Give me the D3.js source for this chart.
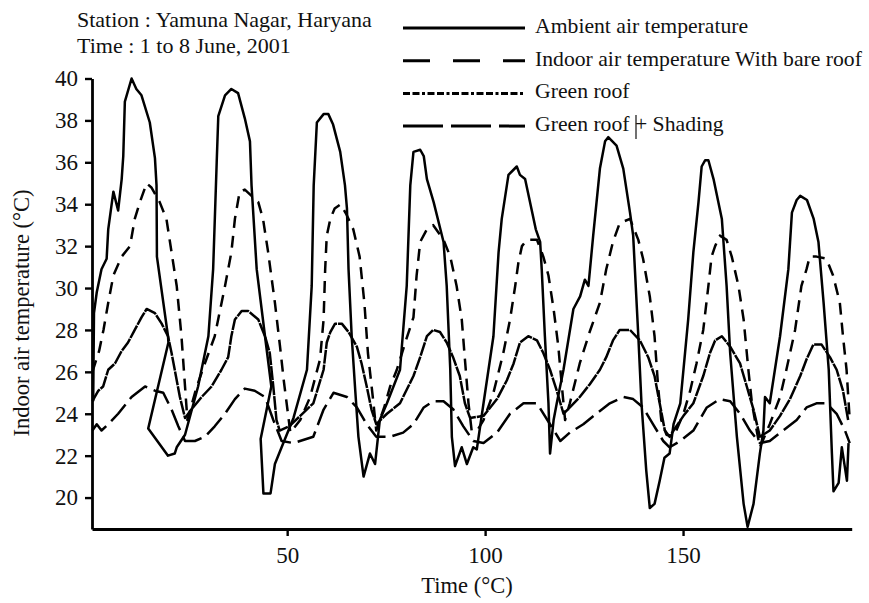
<!DOCTYPE html>
<html>
<head>
<meta charset="utf-8">
<script src="https://cdn.jsdelivr.net/npm/d3@7"></script>
<style>
  body { margin: 0; background: #fff; }
  text { font-family: "Liberation Serif", "DejaVu Serif", serif; fill: #111; }
</style>
</head>
<body>
<svg id="chart" width="869" height="603"></svg>
<script>

// [hour, temperature] pairs
const ambient = [
  [1.0,24.6],[1.2,28.8],[1.9,29.8],[3.1,30.9],[4.4,31.4],[4.8,32.8],[6.1,34.6],[7.3,33.7],[8.2,35.2],[8.6,36.3],[9.0,38.9],[10.7,40.0],[11.9,39.5],[13.2,39.2],[15.3,37.9],[16.6,36.2],[17.0,34.9],[17.1,31.5],[19.9,27.7],[20.0,27.4],[14.9,23.3],[19.9,22.0],[21.6,22.1],[22.1,22.4],[24.2,23.0],
  [27.5,25.3],[30.1,27.7],[31.3,30.9],[32.2,36.0],[32.6,38.2],[34.3,39.2],[35.9,39.5],[37.6,39.3],[39.3,38.1],[40.6,37.0],[41.0,34.9],[42.3,30.9],[44.4,27.7],[46.0,25.3],[43.3,22.8],[44.0,20.2],[45.8,20.2],[46.9,21.6],[48.6,22.4],
  [51.6,23.8],[55.0,26.1],[56.2,30.1],[56.7,34.9],[57.5,37.9],[59.2,38.3],[60.4,38.3],[61.6,37.8],[63.4,36.5],[64.6,34.9],[65.1,33.8],[65.5,30.9],[66.3,27.7],[67.2,25.1],[68.0,22.9],[69.3,21.0],[70.9,22.1],[72.2,21.6],[73.4,23.7],
  [75.2,24.5],[78.5,26.1],[80.2,30.1],[81.1,34.9],[81.9,36.5],[83.6,36.6],[84.5,36.3],[85.3,35.2],[87.0,34.1],[89.5,32.2],[90.3,30.1],[91.2,26.1],[91.6,22.9],[92.4,21.5],[94.1,22.4],[95.4,21.6],[97.0,22.4],
  [97.9,22.3],[99.6,24.5],[102.1,27.7],[103.4,31.7],[104.2,33.3],[105.9,35.4],[108.0,35.8],[108.8,35.4],[110.1,35.2],[112.8,32.8],[113.9,32.2],[114.3,30.9],[115.1,27.7],[116.0,24.5],[116.4,22.1],[117.3,23.7],
  [118.1,24.5],[119.8,26.1],[122.3,29.0],[124.0,29.6],[125.2,30.4],[126.1,30.1],[127.3,32.5],[129.0,35.7],[130.3,37.0],[131.1,37.2],[133.2,36.8],[134.9,35.7],[136.6,33.6],[137.4,32.5],[138.7,27.7],[139.5,24.5],[140.7,21.3],[141.6,19.5],[142.8,19.7],[144.1,20.8],[145.3,21.9],[146.6,22.1],
  [147.6,23.5],[149.3,24.5],[151.3,28.5],[152.6,31.7],[153.9,34.1],[154.7,35.8],[155.6,36.1],[156.4,36.1],[157.7,35.2],[159.8,33.3],[161.0,30.1],[161.9,26.9],[163.6,22.9],[165.3,19.7],[166.3,18.6],[167.8,19.7],[169.4,22.1],[170.3,23.2],
  [170.7,24.8],[171.9,24.5],[174.5,27.7],[176.6,30.9],[177.5,33.6],[178.7,34.2],[179.6,34.4],[181.3,34.2],[183.0,33.3],[184.2,32.2],[185.5,29.3],[186.8,26.1],[187.6,22.1],[188.0,20.3],[189.3,20.7],[190.1,22.4],[191.0,21.3],[191.4,20.8],[191.8,22.6]
];

const bareRoof = [
  [0.8,26.0],[2.5,27.0],[3.6,28.0],[4.8,29.3],[6.1,30.6],[8.2,31.5],[10.3,32.0],[11.5,33.3],[12.8,34.1],[14.5,35.0],[15.7,34.8],[17.8,34.1],[19.5,33.3],[20.8,31.7],[22.1,30.1],[23.3,27.7],[24.2,25.3],[24.8,23.7],
  [27.0,25.2],[29.2,26.4],[31.7,27.7],[34.3,30.1],[35.9,31.7],[36.8,33.3],[38.0,34.6],[39.3,34.7],[41.0,34.4],[42.7,34.1],[43.9,33.3],[45.2,31.7],[46.9,29.3],[48.2,27.2],[49.2,25.5],[50.8,23.1],
  [53.3,23.7],[55.8,24.8],[58.3,26.6],[59.2,28.5],[59.6,30.9],[60.0,32.5],[60.9,33.3],[62.0,33.8],[63.5,34.0],[65.0,33.5],[66.7,32.8],[68.3,31.5],[69.5,29.3],[70.4,26.9],[71.8,24.5],[72.5,23.2],
  [74.5,24.3],[76.0,25.3],[77.7,26.1],[80.0,27.5],[81.9,28.6],[82.7,30.6],[83.6,32.2],[85.3,32.8],[86.9,33.0],[89.5,32.3],[91.2,31.5],[92.8,30.1],[94.1,28.5],[94.9,26.6],[95.8,24.5],[96.6,23.2],
  [98.0,23.2],[99.6,23.7],[102.1,25.0],[104.6,26.9],[106.3,28.5],[107.6,30.1],[108.4,31.2],[109.3,32.0],[110.5,32.3],[113.1,32.3],[114.7,31.5],[116.0,30.6],[117.3,29.0],[118.5,27.2],[119.4,25.3],[120.2,23.7],
  [121.4,24.5],[123.9,26.4],[126.4,27.9],[129.0,29.3],[130.6,30.9],[132.3,32.2],[134.0,33.1],[136.6,33.3],[138.7,32.3],[139.9,31.4],[141.6,29.6],[142.8,27.7],[143.7,25.3],[144.5,23.7],[145.8,23.0],
  [147.6,22.9],[150.1,24.0],[151.8,25.1],[153.4,26.4],[155.1,28.0],[156.4,30.1],[157.2,31.5],[158.1,32.0],[159.3,32.5],[161.0,32.3],[162.3,31.5],[164.0,30.1],[165.3,28.5],[166.5,26.1],[167.4,24.5],[168.6,23.2],[169.4,22.4],
  [171.9,23.5],[174.5,24.8],[176.1,26.1],[178.3,28.0],[179.9,30.1],[181.2,30.9],[182.0,31.5],[183.7,31.5],[186.2,31.4],[187.9,30.6],[189.6,29.3],[190.4,27.7],[191.3,26.1],[192.1,23.7]
];

const greenRoof = [
  [0.8,24.6],[2.3,25.1],[3.5,25.3],[4.8,26.1],[6.5,26.4],[8.2,27.0],[9.8,27.4],[11.5,28.0],[13.2,28.6],[14.5,29.0],[16.6,28.8],[18.3,28.3],[19.9,27.7],[20.8,26.9],[21.6,26.1],[22.9,24.8],[24.2,23.8],
  [25.8,24.2],[28.4,24.8],[30.9,25.3],[33.4,26.1],[35.1,26.7],[35.9,27.7],[36.8,28.5],[38.5,28.9],[40.2,28.9],[42.7,28.5],[44.4,27.7],[45.6,26.9],[46.5,25.3],[47.3,23.7],[48.1,23.2],
  [50.5,23.4],[53.3,23.9],[56.6,24.5],[59.2,26.1],[60.0,27.4],[60.9,27.9],[62.1,28.3],[63.8,28.3],[65.5,27.9],[67.6,27.2],[68.8,26.4],[70.1,25.3],[71.3,24.2],[72.5,23.5],
  [75.2,24.0],[78.5,24.5],[81.9,25.8],[83.6,26.7],[85.3,27.7],[86.9,28.0],[88.6,27.9],[90.3,27.4],[91.9,26.7],[93.6,25.8],[94.9,24.5],[96.2,23.8],
  [99.6,23.9],[103.0,24.7],[105.5,25.6],[107.2,26.4],[108.8,27.4],[110.9,27.7],[113.1,27.5],[114.7,26.9],[116.4,26.1],[118.1,25.1],[119.8,24.0],
  [121.4,24.3],[123.9,24.8],[126.4,25.4],[129.0,26.1],[130.6,26.7],[132.3,27.5],[134.0,28.0],[136.6,28.0],[139.1,27.5],[141.2,26.7],[142.8,25.8],[144.1,24.5],[145.4,23.2],[146.6,22.9],
  [147.6,23.2],[150.1,23.9],[152.6,24.5],[155.1,25.8],[156.8,26.9],[158.1,27.5],[159.8,27.7],[161.9,27.2],[164.4,26.4],[166.1,25.3],[167.8,24.2],[169.4,22.9],
  [171.9,23.2],[174.5,23.9],[177.0,24.7],[179.6,25.8],[181.2,26.6],[182.9,27.3],[185.0,27.3],[187.1,26.7],[188.8,26.1],[190.4,25.1],[191.7,23.7]
];

const greenShading = [
  [0.8,23.2],[1.9,23.5],[3.1,23.2],[4.8,23.5],[7.3,24.0],[10.7,24.8],[14.1,25.3],[16.6,25.1],[18.7,25.0],[20.8,24.2],[22.5,23.4],[24.2,22.7],[26.7,22.7],[29.2,22.9],[31.7,23.4],[34.3,24.0],[36.8,24.7],[39.3,25.2],[41.8,25.1],[44.4,24.8],[46.5,23.7],[48.6,22.7],
  [51.6,22.6],[56.6,22.9],[59.2,24.2],[61.7,25.0],[65.1,24.8],[67.6,24.3],[70.1,23.5],[72.5,22.9],[75.9,22.9],[79.3,23.1],[81.9,23.5],[84.5,24.3],[86.9,24.6],[89.5,24.6],[92.0,24.2],[94.5,23.4],[97.0,22.7],
  [99.6,22.6],[103.0,23.1],[106.3,24.0],[109.7,24.5],[113.1,24.5],[116.4,23.5],[119.0,22.7],[121.4,23.1],[124.8,23.5],[128.1,24.0],[131.5,24.5],[134.9,24.8],[137.4,24.7],[139.9,24.3],[142.4,23.5],[145.0,22.7],
  [146.6,22.4],[149.3,22.7],[152.6,23.2],[156.0,24.3],[159.3,24.7],[161.9,24.6],[164.4,24.0],[166.9,23.2],[169.4,22.6],[171.9,22.7],[175.3,23.2],[178.7,23.7],[181.2,24.3],[183.7,24.5],[186.2,24.5],[188.8,24.0],[190.9,23.2],[192.1,22.6]
];

const yTicks = [20, 22, 24, 26, 28, 30, 32, 34, 36, 38, 40];
const xTicks = [50, 100, 150];
const seriesNames = ['Ambient air temperature', 'Indoor air temperature With bare roof', 'Green roof', 'Green roof + Shading'];
const titleLines = ['Station : Yamuna Nagar, Haryana', 'Time : 1 to 8 June, 2001'];

// line look for each series: plot dash, legend dash
const looks = [
  { dash: null, legendDash: null },
  { dash: '12,8', legendDash: '27,23' },
  { dash: '14,1', legendDash: '7,2.5,7,2.5,3,2.5' },
  { dash: '22,7', legendDash: '40,8' }
];

const svg = d3.select('#chart');

const x = d3.scaleLinear().domain([0.7, 192.6]).range([92, 851.7]);
const y = d3.scaleLinear().domain([18.5, 40]).range([529, 78.5]);

const line = d3.line()
  .x((d) => x(d[0]))
  .y((d) => y(d[1]));

// series
[ambient, bareRoof, greenRoof, greenShading].forEach((data, i) => {
  svg.append('path')
    .datum(data)
    .attr('d', line)
    .attr('fill', 'none')
    .attr('stroke', '#000')
    .attr('stroke-width', 2.5)
    .attr('stroke-linejoin', 'round')
    .attr('stroke-dasharray', looks[i].dash);
});

// axes
const gy = svg.append('g')
  .attr('transform', 'translate(92,0)')
  .call(d3.axisLeft(y).tickValues(yTicks).tickSize(7).tickSizeOuter(0).tickPadding(7));

const gx = svg.append('g')
  .attr('transform', 'translate(0,529)')
  .call(d3.axisBottom(x).tickValues(xTicks).tickSize(7).tickSizeOuter(0).tickPadding(11));

[gy, gx].forEach((g) => {
  g.select('.domain').attr('stroke', '#000').attr('stroke-width', 2.8);
  g.selectAll('.tick line').attr('stroke', '#000').attr('stroke-width', 2.4);
  g.selectAll('.tick text')
    .attr('font-family', '"Liberation Serif", serif')
    .attr('font-size', 23)
    .attr('fill', '#111');
});

// axis titles
svg.append('text')
  .attr('transform', 'translate(29,313) rotate(-90)')
  .attr('text-anchor', 'middle')
  .attr('font-size', 22.5)
  .text('Indoor air temperature (°C)');

svg.append('text')
  .attr('x', 467)
  .attr('y', 593)
  .attr('text-anchor', 'middle')
  .attr('font-size', 22.5)
  .text('Time (°C)');

// station note
svg.selectAll('.note')
  .data(titleLines)
  .enter().append('text')
  .attr('class', 'note')
  .attr('x', 77)
  .attr('y', (d, i) => 27 + i * 26)
  .attr('font-size', 22)
  .text((d) => d);

// legend
const legend = svg.append('g');
seriesNames.forEach((name, i) => {
  const ry = 28 + i * 32.7;
  legend.append('line')
    .attr('x1', 403).attr('x2', 525)
    .attr('y1', ry).attr('y2', ry)
    .attr('stroke', '#000')
    .attr('stroke-width', 3)
    .attr('stroke-dasharray', looks[i].legendDash);
  legend.append('text')
    .attr('x', 535)
    .attr('y', ry + 5)
    .attr('font-size', 21.7)
    .text(name);
});

// text caret left in the source figure
legend.append('line')
  .attr('x1', 636).attr('x2', 636)
  .attr('y1', 115).attr('y2', 139)
  .attr('stroke', '#111')
  .attr('stroke-width', 1.2);

</script>
</body>
</html>
